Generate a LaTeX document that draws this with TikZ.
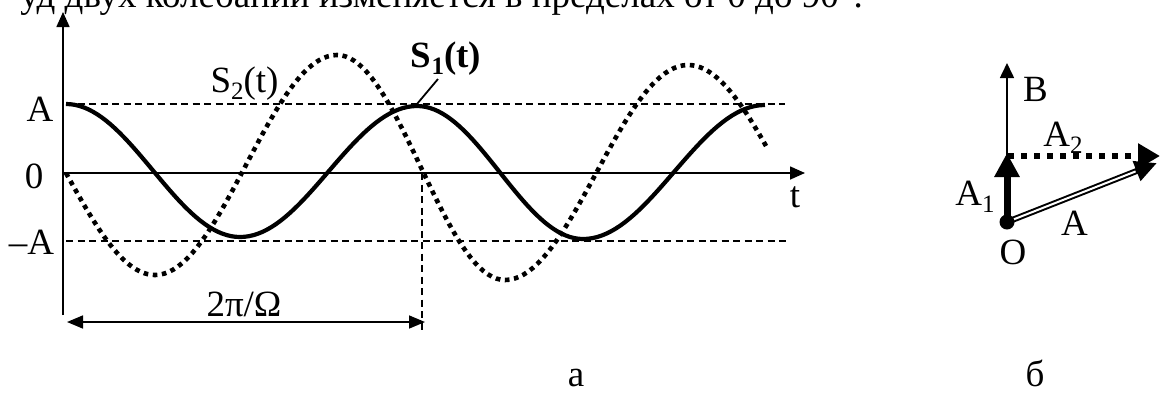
\documentclass[tikz,border=0pt]{standalone}
\usepackage{fontspec}
\setmainfont{Liberation Serif}
\usetikzlibrary{arrows.meta}
\newcommand\lowidx[1]{\raisebox{-0.2em}{\fontsize{25}{25}\selectfont #1}}
\begin{document}
\begin{tikzpicture}[x=1pt,y=-1pt,
  lbl/.style={inner sep=0pt, anchor=base, font=\fontsize{37}{44}\selectfont},
  axis/.style={line width=1.6pt, -{Triangle[length=15pt,width=13pt]}},
  guide/.style={line width=1.2pt, dash pattern=on 7pt off 4.5pt},
  sone/.style={line width=4.2pt},
  stwo/.style={line width=4.6pt, dash pattern=on 4.6pt off 4.6pt},
  dimarrow/.style={line width=1.6pt, {Triangle[length=16pt,width=13pt]}-{Triangle[length=16pt,width=13pt]}},
]
\useasboundingbox (0,0) rectangle (1160,392);
\clip (0,0) rectangle (1160,392);

% top text line (cut)
\node[lbl, anchor=base east] (toptext) at (863,7) {уд двух колебаний изменяется в пределах от 0 до 90°.};

% axes
\coordinate (yb) at (63,315);
\coordinate (yt) at (63,12);
\coordinate (x0) at (63,173);
\coordinate (xt) at (805,173);
\draw[axis] (yb) -- (yt);
\draw[axis] (x0) -- (xt);

% guide lines
\coordinate (gA1) at (66,104);
\coordinate (gA2) at (785,104);
\coordinate (gm1) at (66,241);
\coordinate (gm2) at (790,241);
\coordinate (pv1) at (422,173);
\coordinate (pv2) at (422,332);
\draw[guide] (gA1) -- (gA2);
\draw[guide] (gm1) -- (gm2);
\draw[guide] (pv1) -- (pv2);

% S1 (solid)
\draw[sone] (66,104)
  -- plot[domain=0:1,samples=40] ({66+174*\x},{104+133*(1-cos(180*\x))/2})
  -- plot[domain=0:1,samples=40] ({240+177*\x},{237-131*(1-cos(180*\x))/2})
  -- plot[domain=0:1,samples=40] ({417+166*\x},{106+133*(1-cos(180*\x))/2})
  -- plot[domain=0:1,samples=40] ({583+182*\x},{239-134*(1-cos(180*\x))/2});

% S2 (dotted)
\draw[stwo] plot[domain=0.5:1,samples=25] ({-23+178*\x},{71+204*(1-cos(180*\x))/2})
  -- plot[domain=0:1,samples=40] ({155+182*\x},{275-220*(1-cos(180*\x))/2})
  -- plot[domain=0:1,samples=40] ({337+168*\x},{55+225*(1-cos(180*\x))/2})
  -- plot[domain=0:1,samples=40] ({505+183*\x},{280-215*(1-cos(180*\x))/2})
  -- plot[domain=0:0.43,samples=20] ({688+186*\x},{65+216*(1-cos(180*\x))/2});

% period arrow
\coordinate (dL) at (67,322);
\coordinate (dR) at (425,322);
\draw[dimarrow] (dL) -- (dR);

% labels
\node[lbl] (lA) at (40,121) {A};
\node[lbl] (l0) at (34,188) {0};
\node[lbl] (lmA) at (31.5,254) {–A};
\node[lbl] (lt) at (795,207) {t};
\node[lbl] (ls2) at (244.5,92) {S\lowidx{2}(t)};
\node[lbl, font=\fontsize{37}{44}\selectfont\bfseries] (ls1) at (446,67) {S\lowidx{1}(t)};
\coordinate (s1top) at (438,79);
\coordinate (s1pt) at (417,104);
\draw[line width=1.8pt] (s1top) -- (s1pt);
\node[lbl] (lper) at (244,316) {2π/Ω};
\node[lbl] (la) at (576,386) {а};
\node[lbl] (lb) at (1035,386) {б};

% vector diagram
\coordinate (O) at (1007,222);
\coordinate (Btip) at (1007,63);
\coordinate (A1tip) at (1007,153);
\coordinate (A2s) at (1008,156);
\coordinate (A2tip) at (1160,156);
\coordinate (Atip) at (1157,163);
\draw[line width=1.6pt, -{Triangle[length=15pt,width=14pt]}] (O) -- (Btip);
\draw[line width=6pt, dash pattern=on 6pt off 7pt, -{Triangle[length=22pt,width=24pt]}] (A2s) -- (A2tip);
\draw[line width=7pt, -{Triangle[length=24pt,width=24pt]}] (O) -- (A1tip);
\draw[line width=6pt, -{Triangle[length=22pt,width=20pt]}] (O) -- (Atip);
\draw[line width=2pt, white, shorten >=23pt] (O) -- (Atip);
\fill (O) circle (7.5pt);
\node[lbl] (lB) at (1035.5,101) {B};
\node[lbl] (lA2) at (1063,146) {A\lowidx{2}};
\node[lbl] (lA1) at (975,205) {A\lowidx{1}};
\node[lbl] (lAr) at (1074.5,235) {A};
\node[lbl] (lO) at (1013,264) {O};
\end{tikzpicture}
\end{document}
